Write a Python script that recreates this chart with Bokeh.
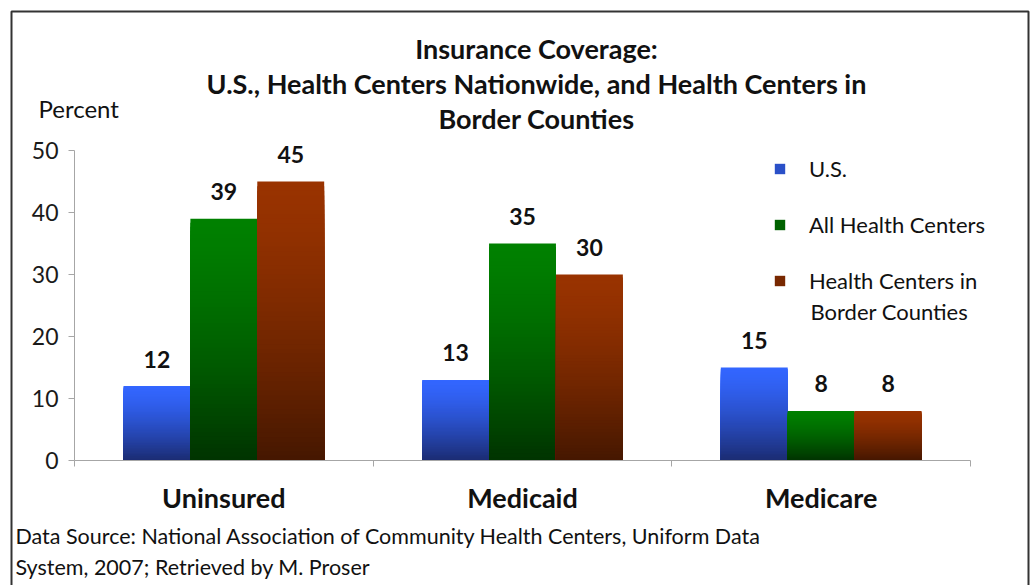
import numpy as np
from bokeh.plotting import figure
from bokeh.models import (ColumnDataSource, Label, Legend, LegendItem, FixedTicker,
                          Range1d, BoxAnnotation)
from bokeh.core.properties import value
from bokeh.embed import file_html
from bokeh.resources import INLINE

# ---------------- data ----------------
categories = ["Uninsured", "Medicaid", "Medicare"]
series_names = ["U.S.", "All Health Centers", "Health Centers in"]
us_values = [12, 13, 15]
all_hc_values = [39, 35, 8]
border_values = [45, 30, 8]
y_ticks = [0, 10, 20, 30, 40, 50]
title_lines = ["Insurance Coverage:",
               "U.S., Health Centers Nationwide, and Health Centers in",
               "Border Counties"]
source_lines = ["Data Source: National Association of Community Health Centers, Uniform Data",
                "System, 2007; Retrieved by M. Proser"]

# ---------------- style / layout ----------------
FONT = "Lato"
W, H = 1030, 585
PL, PR, PT, PB = 74, 970, 150, 460      # plot area in canvas pixels
n_cat = len(categories)
y_max = y_ticks[-1]
sx = (PR - PL) / n_cat
sy = (PB - PT) / y_max
x_range = Range1d(-PL / sx, n_cat + (W - PR) / sx)
y_range = Range1d(-(H - PB) / sy, y_max + PT / sy)

series_colors = [("#3366FF", "#1B2C72"), ("#008000", "#003300"), ("#993300", "#451700")]
offsets = [-0.224, 0.0, 0.224]
bar_w = 0.224
N = 60


def mix(c1, c2, t):
    a = [int(c1[i:i + 2], 16) for i in (1, 3, 5)]
    b = [int(c2[i:i + 2], 16) for i in (1, 3, 5)]
    return "#%02x%02x%02x" % tuple(int(round(a[j] + (b[j] - a[j]) * t)) for j in range(3))


p = figure(width=W, height=H, x_range=x_range, y_range=y_range,
           output_backend="svg", toolbar_location=None, title=None,
           min_border=0)
p.outline_line_color = None
p.xgrid.visible = False
p.ygrid.visible = False
p.background_fill_color = "white"
p.border_fill_color = "white"

renderers = []
for si, (vals, (ctop, cbot)) in enumerate(zip([us_values, all_hc_values, border_values], series_colors)):
    xs, tops, cols = [], [], []
    for ci, v in enumerate(vals):
        for k in range(N - 1, -1, -1):
            t = v * (k + 1) / N
            frac = 1 - (k + 0.5) / N
            xs.append(ci + 0.5 + offsets[si])
            tops.append(t)
            cols.append(mix(ctop, cbot, frac ** 1.4))
    src = ColumnDataSource(dict(x=xs, top=tops, color=cols))
    r = p.vbar(x="x", top="top", bottom=0, width=bar_w, fill_color="color",
               line_color=None, source=src)
    renderers.append(r)

    lsrc = ColumnDataSource(dict(x=[ci + 0.5 + offsets[si] for ci in range(len(vals))],
                                 y=vals, t=[str(v) for v in vals]))
    p.text(x="x", y="y", text="t", source=lsrc, text_align="center",
           text_baseline="alphabetic", y_offset=-27, text_font=value(FONT),
           text_font_style="bold", text_font_size="23px", text_color="#111111")

# axes (placed at the data origin, limited to the plot area)
ax_col = "#a6a6a6"
p.yaxis.fixed_location = 0
p.yaxis.bounds = (0, y_max)
p.yaxis.ticker = FixedTicker(ticks=y_ticks)
p.yaxis.major_tick_in = 0
p.yaxis.major_tick_out = 6
p.yaxis.minor_tick_line_color = None
p.yaxis.axis_line_color = ax_col
p.yaxis.major_tick_line_color = ax_col
p.yaxis.major_label_text_font = FONT
p.yaxis.major_label_text_font_size = "23px"
p.yaxis.major_label_text_color = "#1a1a1a"
p.yaxis.major_label_standoff = 10

p.xaxis.fixed_location = 0
p.xaxis.bounds = (0, n_cat)
p.xaxis.ticker = FixedTicker(ticks=[i + 0.5 for i in range(n_cat)],
                             minor_ticks=list(range(n_cat + 1)))
p.xaxis.major_label_overrides = {i + 0.5: c for i, c in enumerate(categories)}
p.xaxis.major_tick_in = 0
p.xaxis.major_tick_out = 0
p.xaxis.minor_tick_in = 0
p.xaxis.minor_tick_out = 6
p.xaxis.axis_line_color = ax_col
p.xaxis.minor_tick_line_color = ax_col
p.xaxis.major_label_text_font = FONT
p.xaxis.major_label_text_font_style = "bold"
p.xaxis.major_label_text_font_size = "27px"
p.xaxis.major_label_text_color = "#111111"
p.xaxis.major_label_standoff = 14

# legend
items = [LegendItem(label=series_names[i], renderers=[renderers[i]], index=N // 2)
         for i in range(3)]
legend = Legend(items=items, location=(773, 291), orientation="vertical",
                glyph_width=13, glyph_height=13, label_standoff=23, spacing=29,
                label_height=20, padding=0, margin=0, border_line_color=None,
                background_fill_alpha=0, label_text_font=FONT,
                label_text_font_size="22px", label_text_color="#111111")
p.add_layout(legend)


def lab(text, x, y, size, bold=False, align="left", color="#111111"):
    p.add_layout(Label(x=x, y=y, x_units="canvas", y_units="canvas", text=text,
                       text_font=FONT, text_font_size=size,
                       text_font_style="bold" if bold else "normal",
                       text_align=align, text_baseline="middle", text_color=color))


for i, line in enumerate(title_lines):
    lab(line, 536, 48 + 35 * i, "27px", bold=True, align="center")
lab("Percent", 38, 108, "24px")
lab("Border Counties", 810, 311, "22px")
for i, line in enumerate(source_lines):
    lab(line, 15, 535 + 31 * i, "21.5px")

# outer frame
p.add_layout(BoxAnnotation(left=11, right=1028, top=11, bottom=600,
                           left_units="canvas", right_units="canvas",
                           top_units="canvas", bottom_units="canvas",
                           fill_alpha=0, line_color="#333333", line_alpha=1.0,
                           line_width=2))

open("out.html", "w").write(file_html(p, INLINE))
